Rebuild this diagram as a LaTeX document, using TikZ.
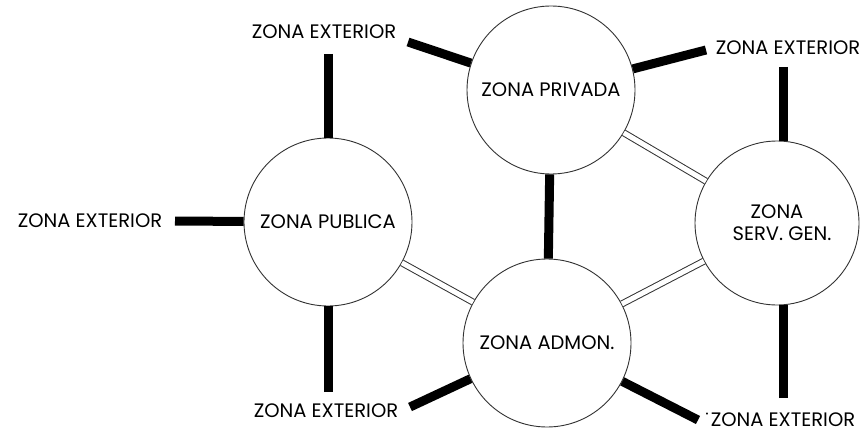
\documentclass[tikz,border=0pt]{standalone}
\usepackage{fontspec}
\setmainfont{Poppins}
\begin{document}
\begin{tikzpicture}[x=1pt,y=-1pt,
  zone/.style={circle,draw=black!80,line width=0.9pt,fill=white,minimum size=168pt,inner sep=0pt,align=center,font=\fontsize{19.5}{23}\selectfont},
  lbl/.style={inner sep=0pt,font=\fontsize{19.5}{23}\selectfont},
  thick link/.style={line width=9pt,black},
  dbl link/.style={draw=black!80,line width=1pt,double=white,double distance=5pt}]
\useasboundingbox (0,0) rectangle (861,433);
\fill[white] (0,0) rectangle (861,433);
% zones
\node[zone] (pri) at (551,90) {ZONA PRIVADA};
\node[zone] (pub) at (328,222) {ZONA PUBLICA};
\node[zone] (adm) at (547,343) {ZONA ADMON.};
\node[zone,minimum size=164pt] (srv) at (777,223) {ZONA\\[-1pt]\hspace*{10pt}SERV. GEN.};
% labels
\node[lbl] (l1) at (324,32) {ZONA EXTERIOR};
\node[lbl] (l2) at (788,48) {ZONA EXTERIOR};
\node[lbl] (l3) at (90,221) {ZONA EXTERIOR};
\node[lbl] (l4) at (326,411) {ZONA EXTERIOR};
\node[lbl] (l5) at (783,420) {ZONA EXTERIOR};
\node[lbl,font=\fontsize{16}{16}\selectfont] (dot) at (707,416) {·};
% free ends
\coordinate (c1) at (408,42);
\coordinate (c2) at (706,50);
\coordinate (c3) at (783,67);
\coordinate (c4) at (175,221);
\coordinate (c5) at (328,54);
\coordinate (c6) at (328,392);
\coordinate (c7) at (410,407);
\coordinate (c8) at (698,420);
\coordinate (c9) at (783,398);
% links
\draw[thick link] (c1) -- (pri);
\draw[thick link] (c2) -- (pri);
\draw[thick link] (c3) -- (c3 |- srv.north);
\draw[thick link] (c9) -- (c9 |- srv.south);
\draw[thick link] (c4) -- (pub);
\draw[thick link] (c5) -- (pub);
\draw[thick link] (c6) -- (pub);
\draw[thick link] (c7) -- (adm);
\draw[thick link] (c8) -- (adm);
\draw[thick link] (pri) -- (adm);
\draw[dbl link] (pub) -- (adm);
\draw[dbl link] (pri) -- (srv);
\draw[dbl link] (adm) -- (srv);
\end{tikzpicture}
\end{document}
